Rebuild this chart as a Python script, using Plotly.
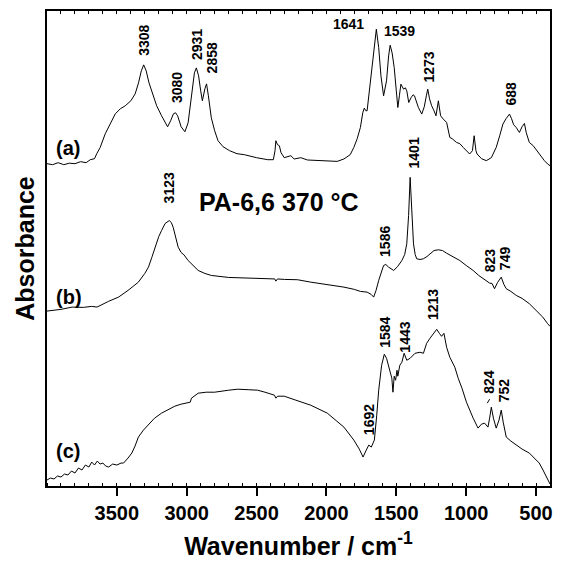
import plotly.graph_objects as go

# ---------------- data ----------------
wn_a = [4000, 3960, 3920, 3880, 3840, 3800, 3760, 3720, 3690, 3660, 3644, 3620, 3583, 3545, 3511,
        3475, 3440, 3400, 3369, 3345, 3325, 3308, 3290, 3270, 3251, 3230, 3215, 3180, 3155, 3137,
        3115, 3095, 3080, 3065, 3040, 3013, 2990, 2965, 2945, 2931, 2915, 2900, 2888, 2870, 2858,
        2845, 2824, 2800, 2776, 2740, 2693, 2640, 2587, 2500, 2420, 2380, 2368, 2362, 2350, 2337,
        2325, 2302, 2270, 2255, 2231, 2200, 2184, 2136, 2050, 1923, 1875, 1830, 1804, 1780, 1757,
        1740, 1729, 1718, 1709, 1690, 1674, 1655, 1643, 1626, 1610, 1591, 1570, 1555, 1544, 1530,
        1515, 1500, 1489, 1478, 1467, 1448, 1435, 1425, 1411, 1394, 1380, 1370, 1342, 1318, 1300,
        1285, 1275, 1262, 1247, 1230, 1216, 1199, 1183, 1164, 1140, 1117, 1100, 1069, 1045, 1021,
        975, 955, 943, 930, 922, 890, 856, 820, 785, 760, 737, 715, 690, 675, 660,
        642, 619, 600, 583, 570, 548, 520, 477, 440, 417, 400]
abs_a = [3.23, 3.22, 3.24, 3.22, 3.235, 3.23, 3.25, 3.24, 3.27, 3.28, 3.33, 3.39, 3.53, 3.64, 3.73,
         3.78, 3.81, 3.86, 3.93, 4.04, 4.16, 4.22, 4.16, 4.04, 3.96, 3.86, 3.81, 3.71, 3.64, 3.60,
         3.66, 3.73, 3.74, 3.71, 3.60, 3.55, 3.64, 3.91, 4.14, 4.19, 4.11, 3.96, 3.86, 3.98, 4.03,
         3.91, 3.69, 3.56, 3.46, 3.40, 3.36, 3.33, 3.32, 3.29, 3.27, 3.27, 3.36, 3.46, 3.42, 3.41,
         3.34, 3.29, 3.305, 3.31, 3.277, 3.29, 3.29, 3.267, 3.26, 3.253, 3.277, 3.32, 3.393, 3.48, 3.593,
         3.74, 3.787, 3.76, 3.76, 4.01, 4.193, 4.46, 4.577, 4.393, 4.11, 3.91, 4.06, 4.31, 4.417, 4.34,
         4.193, 3.96, 3.793, 3.91, 4.027, 3.977, 3.99, 3.96, 3.843, 3.893, 3.92, 3.91, 3.793, 3.727, 3.80,
         3.91, 3.977, 3.88, 3.81, 3.76, 3.71, 3.86, 3.71, 3.677, 3.643, 3.493, 3.48, 3.443, 3.43, 3.393,
         3.327, 3.36, 3.51, 3.36, 3.327, 3.28, 3.26, 3.29, 3.393, 3.51, 3.627, 3.68, 3.727, 3.68, 3.62,
         3.593, 3.543, 3.60, 3.633, 3.54, 3.443, 3.41, 3.327, 3.26, 3.227, 3.21]

wn_b = [4000, 3900, 3820, 3740, 3680, 3642, 3560, 3488, 3420, 3346, 3300, 3274, 3250, 3227, 3200,
        3180, 3155, 3125, 3110, 3097, 3080, 3061, 3040, 3020, 2990, 2950, 2918, 2870, 2824, 2700,
        2634, 2500, 2397, 2370, 2362, 2350, 2300, 2207, 2113, 2000, 1875, 1800, 1757, 1709, 1680,
        1662, 1645, 1626, 1605, 1591, 1575, 1555, 1519, 1490, 1460, 1440, 1425, 1412, 1401, 1390,
        1377, 1365, 1354, 1330, 1306, 1280, 1259, 1230, 1199, 1170, 1140, 1100, 1046, 1000, 950,
        910, 879, 850, 832, 815, 797, 775, 749, 730, 713, 680, 642, 600, 548, 500,
        452, 417, 400]
abs_b = [1.753, 1.77, 1.793, 1.79, 1.80, 1.793, 1.85, 1.893, 1.96, 2.043, 2.13, 2.193, 2.29, 2.393, 2.50,
         2.56, 2.63, 2.66, 2.64, 2.593, 2.49, 2.393, 2.34, 2.317, 2.26, 2.20, 2.16, 2.13, 2.11, 2.09,
         2.087, 2.08, 2.077, 2.075, 2.053, 2.075, 2.07, 2.067, 2.043, 2.02, 1.993, 1.97, 1.95, 1.943, 1.92,
         1.893, 1.96, 2.06, 2.16, 2.21, 2.22, 2.193, 2.16, 2.20, 2.26, 2.32, 2.427, 2.71, 3.093, 2.71,
         2.427, 2.32, 2.277, 2.27, 2.277, 2.30, 2.327, 2.36, 2.367, 2.36, 2.333, 2.30, 2.26, 2.21, 2.16,
         2.11, 2.077, 2.05, 2.033, 2.03, 1.977, 2.04, 2.093, 2.02, 1.977, 1.95, 1.91, 1.88, 1.827, 1.76,
         1.693, 1.627, 1.60]

wn_c = [4000, 3975, 3950, 3925, 3900, 3875, 3850, 3825, 3800, 3775, 3750, 3725, 3700, 3680, 3660,
        3640, 3620, 3600, 3580, 3559, 3530, 3500, 3470, 3452, 3420, 3393, 3370, 3346, 3310, 3274,
        3230, 3180, 3130, 3085, 3040, 2990, 2975, 2966, 2918, 2860, 2800, 2700, 2634, 2560, 2492,
        2440, 2397, 2372, 2362, 2350, 2302, 2278, 2219, 2113, 1994, 1875, 1804, 1765, 1738, 1715,
        1697, 1679, 1657, 1640, 1626, 1605, 1586, 1570, 1555, 1532, 1524, 1515, 1505, 1495, 1489,
        1475, 1460, 1444, 1425, 1401, 1366, 1330, 1306, 1283, 1259, 1235, 1211, 1192, 1176, 1159,
        1140, 1117, 1081, 1057, 1030, 998, 975, 950, 915, 890, 868, 844, 832, 820, 805,
        785, 765, 749, 735, 713, 680, 642, 600, 548, 520, 500, 477, 450, 430, 405, 400]
abs_c = [0.06, 0.08, 0.07, 0.10, 0.09, 0.12, 0.11, 0.15, 0.13, 0.18, 0.16, 0.21, 0.19, 0.24, 0.21,
         0.25, 0.22, 0.23, 0.20, 0.19, 0.22, 0.21, 0.23, 0.23, 0.28, 0.33, 0.40, 0.49, 0.56, 0.61,
         0.68, 0.73, 0.77, 0.80, 0.82, 0.84, 0.84, 0.88, 0.93, 0.94, 0.94, 0.96, 0.97, 0.965, 0.96,
         0.94, 0.92, 0.91, 0.88, 0.90, 0.90, 0.89, 0.86, 0.81, 0.73, 0.59, 0.46, 0.37, 0.29, 0.36,
         0.41, 0.39, 0.46, 0.71, 0.96, 1.21, 1.32, 1.28, 1.19, 1.08, 0.94, 1.10, 1.06, 1.16, 1.10,
         1.21, 1.24, 1.33, 1.26, 1.28, 1.33, 1.34, 1.33, 1.43, 1.48, 1.53, 1.57, 1.53, 1.50, 1.53,
         1.39, 1.29, 1.19, 1.08, 0.98, 0.84, 0.76, 0.68, 0.58, 0.62, 0.63, 0.59, 0.68, 0.79, 0.68,
         0.58, 0.66, 0.76, 0.64, 0.49, 0.45, 0.41, 0.37, 0.33, 0.29, 0.26, 0.23, 0.16, 0.10, 0.03, 0.02]

# peak labels: (text, wavenumber position, absorbance position, rotated?)
peak_text = ["3308", "3080", "2931", "2858", "1641", "1539", "1273", "688",
             "1401", "3123", "1586", "823", "749",
             "1584", "1443", "1213", "1692", "824", "752"]
peak_x = [3303, 3068, 2926, 2819, 1840, 1475, 1268, 678,
          1375, 3125, 1585, 827, 721,
          1581, 1439, 1233, 1699, 838, 728]
peak_y = [4.465, 3.99, 4.42, 4.285, 4.63, 4.56, 4.20, 3.935,
          3.34, 2.985, 2.45, 2.265, 2.285,
          1.545, 1.495, 1.82, 0.665, 1.043, 0.96]
peak_rot = [True, True, True, True, False, False, True, True,
            True, True, True, True, True,
            True, True, True, True, True, True]

trace_labels = ["(a)", "(b)", "(c)"]
trace_label_x = [3847, 3840, 3847]
trace_label_y = [3.385, 1.89, 0.355]

title_text = "PA-6,6 370 °C"
x_ticks = [3500, 3000, 2500, 2000, 1500, 1000, 500]

FONT = "Liberation Sans, Arial, sans-serif"

fig = go.Figure()
for wn, ab in [(wn_a, abs_a), (wn_b, abs_b), (wn_c, abs_c)]:
    fig.add_trace(go.Scatter(x=wn, y=ab, mode="lines",
                             line=dict(color="black", width=1), showlegend=False,
                             hoverinfo="skip"))
# invisible trace for the top axis
fig.add_trace(go.Scatter(x=[4000, 400], y=[0, 0], xaxis="x2", mode="lines",
                         line=dict(width=0), showlegend=False, hoverinfo="skip"))

annotations = []
for t, x, y, r in zip(peak_text, peak_x, peak_y, peak_rot):
    annotations.append(dict(x=x, y=y, text=t, showarrow=False, textangle=-90 if r else 0,
                            font=dict(family=FONT, size=14, color="black", weight="bold"),
                            xanchor="center", yanchor="middle"))
for t, x, y in zip(trace_labels, trace_label_x, trace_label_y):
    annotations.append(dict(x=x, y=y, text=t, showarrow=False,
                            font=dict(family=FONT, size=20, color="black", weight="bold"),
                            xanchor="center", yanchor="middle"))
annotations.append(dict(x=2343, y=2.85, text=title_text, showarrow=False,
                        font=dict(family=FONT, size=25, color="black", weight="bold"),
                        xanchor="center", yanchor="middle"))

fig.update_layout(
    width=562, height=569,
    margin=dict(l=47, r=9, t=10, b=83),
    paper_bgcolor="white", plot_bgcolor="white",
    annotations=annotations,
    # small leader dash next to the 824 label
    shapes=[dict(type="line", xref="x", yref="y", x0=849, y0=0.83, x1=832, y1=0.87,
                 line=dict(color="black", width=1))],
    xaxis=dict(range=[4000, 400], tickvals=x_ticks, ticktext=[str(v) for v in x_ticks],
               ticks="outside", ticklen=8, tickwidth=2, tickcolor="black",
               ticklabelstandoff=0,
               minor=dict(dtick=100, tick0=0, ticks="inside", ticklen=3, tickwidth=1,
                          tickcolor="black", showgrid=False),
               showline=True, linewidth=2, linecolor="black", mirror=True,
               showgrid=False, zeroline=False,
               tickfont=dict(family=FONT, size=20, color="black", weight="bold"),
               title=dict(text="Wavenumber / cm<sup>-1</sup>", standoff=14,
                          font=dict(family=FONT, size=25, color="black", weight="bold"))),
    xaxis2=dict(range=[4000, 400], overlaying="x", side="top", dtick=100, tick0=0,
                ticks="inside", ticklen=3, tickwidth=1, tickcolor="black",
                showticklabels=False, showgrid=False, zeroline=False, showline=False),
    yaxis=dict(range=[0, 4.76], showticklabels=False, ticks="",
               showline=True, linewidth=2, linecolor="black", mirror=True,
               showgrid=False, zeroline=False,
               title=dict(text="Absorbance", standoff=3,
                          font=dict(family=FONT, size=25, color="black", weight="bold"))),
)

fig.write_html("out.html", config={"displayModeBar": False},
               post_script="document.body.style.margin='0';")
